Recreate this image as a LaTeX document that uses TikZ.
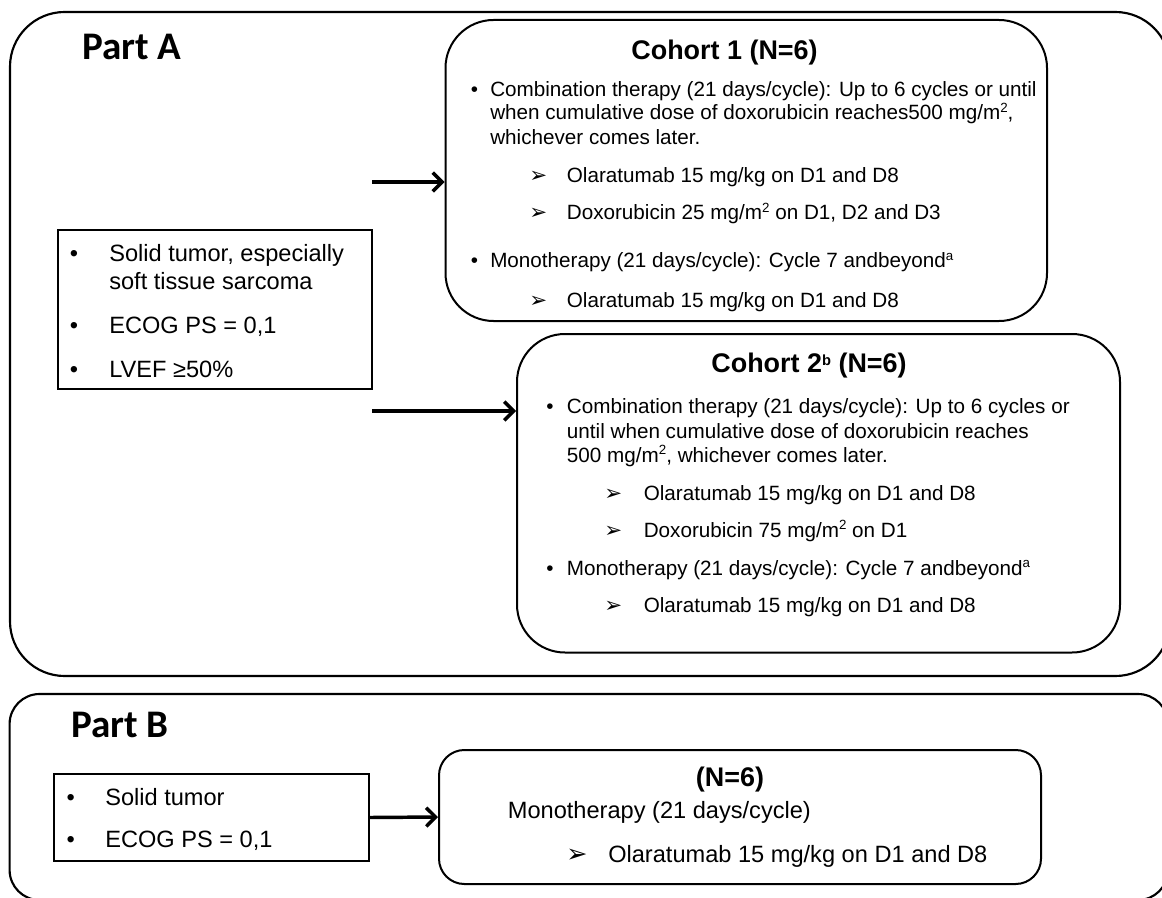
\documentclass[tikz,border=0pt]{standalone}
\usepackage{fontspec}
\setmainfont{Liberation Sans}
\newfontfamily\calib{Carlito}
\newfontfamily\dejavu{DejaVu Sans}
\usetikzlibrary{arrows.meta,fit}
\newcommand\supA[1]{\raisebox{5.5pt}{\fontsize{10}{10}\selectfont #1}}
\newcommand\supT[1]{\raisebox{5pt}{\fontsize{11}{11}\selectfont #1}}
\begin{document}
\begin{tikzpicture}[x=0.75pt,y=-0.75pt,
  frame/.style={draw,line width=1.6pt,inner sep=0pt},
  cbox/.style={draw,line width=1.5pt,inner sep=0pt},
  ebox/.style={draw,line width=1.5pt,inner sep=0pt},
  lbl/.style={anchor=base west,inner sep=0pt,font=\calib\bfseries\fontsize{29.3}{30}\selectfont},
  ttl/.style={anchor=base,inner sep=0pt,font=\bfseries\fontsize{20.2}{22}\selectfont},
  ta/.style={anchor=base west,inner sep=0pt,font=\fontsize{15.5}{18}\selectfont},
  tb/.style={anchor=base west,inner sep=0pt,font=\fontsize{17.7}{20}\selectfont},
  bula/.style={anchor=base,inner sep=0pt,font=\fontsize{15.5}{18}\selectfont},
  bulb/.style={anchor=base,inner sep=0pt,font=\fontsize{17.7}{20}\selectfont},
  arra/.style={anchor=base west,inner sep=0pt,font=\dejavu\fontsize{16}{16}\selectfont},
  arrb/.style={anchor=base west,inner sep=0pt,font=\dejavu\fontsize{19}{19}\selectfont},
  conn/.style={line width=2.6pt,-{Straight Barb[length=7pt,width=14pt]}}
]
\useasboundingbox (0,0) rectangle (1162,898);
\clip (0,0) rectangle (1162,898);

% frames
\node[frame,rounded corners=41pt,fit={(10,12) (1170,676)}] (pa) {};
\node[frame,rounded corners=22.5pt,fit={(9.6,694) (1168,900)}] (pb) {};

\node[lbl] (la) at (82,60) {Part A};
\node[lbl] (lb) at (70.8,737) {Part B};

% Part A eligibility
\node[ebox,fit={(58,230) (372,389)}] (ea) {};
\node[bulb] (eab1) at (74,262) {•};
\node[tb] (eat1) at (109,262) {Solid tumor, especially};
\node[tb] (eat2) at (109,290) {soft tissue sarcoma};
\node[bulb] (eab2) at (74,333) {•};
\node[tb] (eat3) at (109,333) {ECOG PS = 0,1};
\node[bulb] (eab3) at (74,377) {•};
\node[tb] (eat4) at (109,377) {LVEF ≥50\%};

% Cohort 1
\node[cbox,rounded corners=36pt,fit={(445.5,20) (1047,321)}] (c1) {};
\node[ttl] (c1t) at (724.5,60) {Cohort 1 (N=6)};
\node[bula] (c1b1) at (474.5,97) {•};
\node[ta] (c1l1) at (490,97) {Combination therapy (21 days/cycle): Up to 6 cycles or until};
\node[ta] (c1l2) at (490,120) {when cumulative dose of doxorubicin reaches500 mg/m\supA{2},};
\node[ta] (c1l3) at (490,145) {whichever comes later.};
\node[arra] (c1a1) at (529,183) {➢};
\node[ta] (c1l4) at (566.6,183) {Olaratumab 15 mg/kg on D1 and D8};
\node[arra] (c1a2) at (529,220) {➢};
\node[ta] (c1l5) at (566.6,220) {Doxorubicin 25 mg/m\supA{2} on D1, D2 and D3};
\node[bula] (c1b2) at (474.5,268) {•};
\node[ta] (c1l6) at (490,268) {Monotherapy (21 days/cycle): Cycle 7 andbeyond\supA{a}};
\node[arra] (c1a3) at (529,307) {➢};
\node[ta] (c1l7) at (566.6,307) {Olaratumab 15 mg/kg on D1 and D8};

% Cohort 2
\node[cbox,rounded corners=36pt,fit={(517,334) (1120,652.5)}] (c2) {};
\node[ttl] (c2t) at (809,372) {Cohort 2\supT{b} (N=6)};
\node[bula] (c2b1) at (550,413) {•};
\node[ta] (c2l1) at (566.7,413) {Combination therapy (21 days/cycle): Up to 6 cycles or};
\node[ta] (c2l2) at (566.7,438) {until when cumulative dose of doxorubicin reaches};
\node[ta] (c2l3) at (566.7,462) {500 mg/m\supA{2}, whichever comes later.};
\node[arra] (c2a1) at (604,500) {➢};
\node[ta] (c2l4) at (643.5,500) {Olaratumab 15 mg/kg on D1 and D8};
\node[arra] (c2a2) at (604,537) {➢};
\node[ta] (c2l5) at (643.5,537) {Doxorubicin 75 mg/m\supA{2} on D1};
\node[bula] (c2b2) at (550,575) {•};
\node[ta] (c2l6) at (566.7,575) {Monotherapy (21 days/cycle): Cycle 7 andbeyond\supA{a}};
\node[arra] (c2a3) at (604,612) {➢};
\node[ta] (c2l7) at (643.5,612) {Olaratumab 15 mg/kg on D1 and D8};

% arrows Part A
\coordinate (s1) at (372,182);
\coordinate (s2) at (372,411);
\draw[conn] (s1) -- (c1.west |- s1);
\draw[conn] (s2) -- (c2.west |- s2);

% Part B eligibility
\node[ebox,fit={(53.6,774) (369,861)}] (eb) {};
\node[bulb] (ebb1) at (70.8,805) {•};
\node[tb] (ebt1) at (105,805) {Solid tumor};
\node[bulb] (ebb2) at (70.8,847) {•};
\node[tb] (ebt2) at (105,847) {ECOG PS = 0,1};

% Part B cohort
\node[cbox,rounded corners=19pt,fit={(439,750) (1041,884)}] (cb) {};
\node[ttl] (cbt) at (730,786) {(N=6)};
\node[tb] (cbl1) at (507.6,818) {Monotherapy (21 days/cycle)};
\node[arrb] (cba1) at (566,862) {➢};
\node[tb] (cbl2) at (608,862) {Olaratumab 15 mg/kg on D1 and D8};

\draw[conn] (eb.east) -- (cb.west);
\end{tikzpicture}
\end{document}
